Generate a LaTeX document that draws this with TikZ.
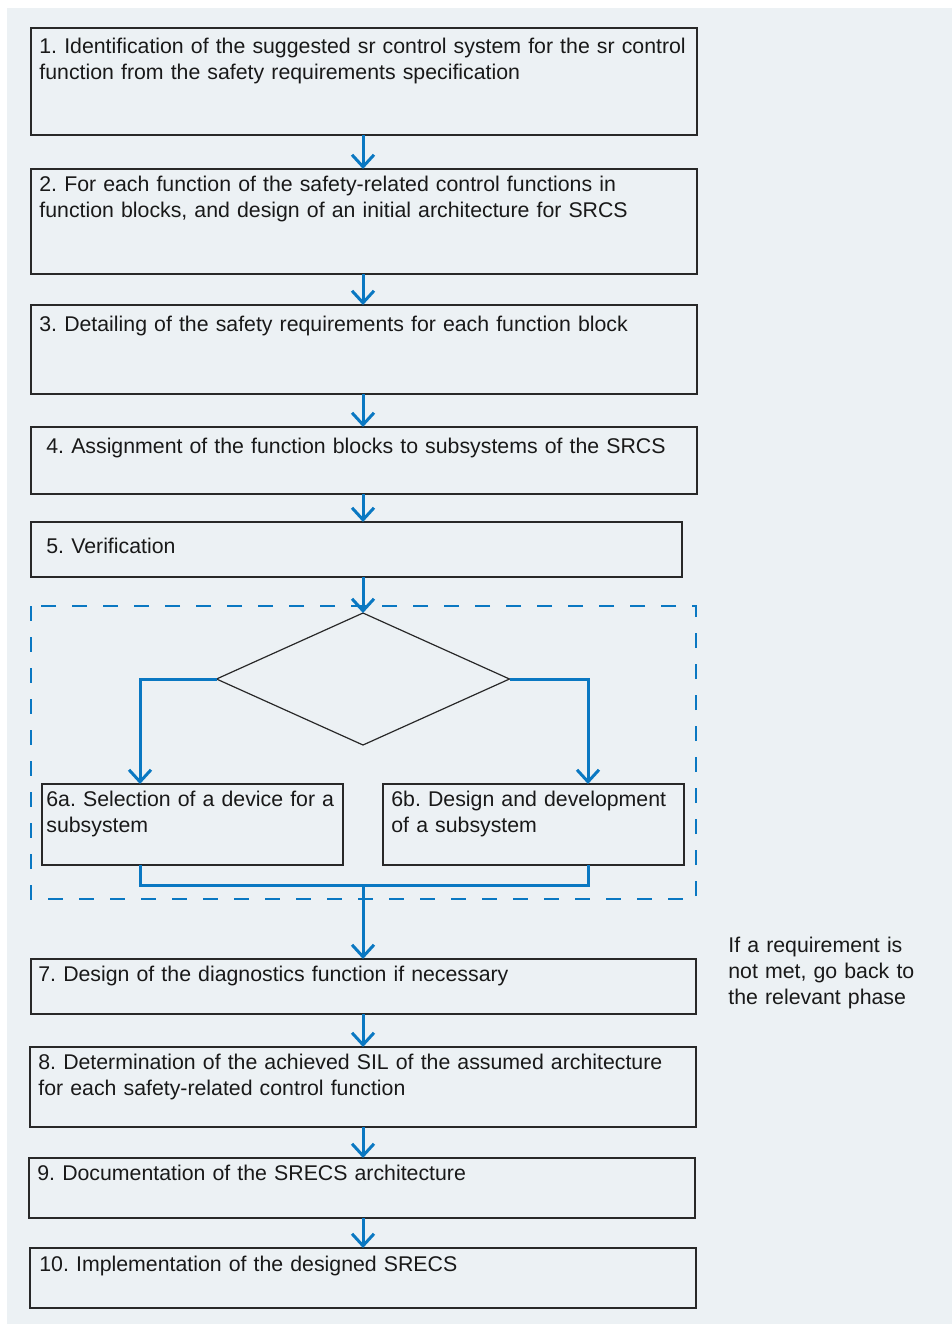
\documentclass[tikz,border=0pt]{standalone}
\usepackage{fontspec}
\setmainfont{Liberation Sans}
\usepackage{xcolor}
\usepackage{tikz}
\usetikzlibrary{arrows.meta,positioning,calc,shapes.geometric}
\definecolor{srblue}{RGB}{10,120,194}
\definecolor{srgray}{RGB}{40,40,40}
\definecolor{srback}{RGB}{236,241,244}
\frenchspacing
\tikzset{
  box/.style={draw=srgray, line width=0.8pt, inner sep=0pt, outer sep=0pt,
    anchor=north west},
  txt/.style={font=\fontsize{10.65}{13}\selectfont, inner sep=0pt, anchor=base west,
    align=left, text width=345pt, text=black!90},
  smalltxt/.style={txt, text width=160pt},
  decision/.style={diamond, draw=srgray, line width=0.6pt, minimum width=146.5pt,
    minimum height=66pt, inner sep=0pt, outer sep=0pt},
  frame/.style={draw=srblue, line width=1pt, dash pattern=on 7.5pt off 8pt},
  link/.style={line width=1.5pt, draw=srblue},
  flow/.style={-{Straight Barb[length=6pt, width=11pt]}, line width=1.5pt, draw=srblue},
}

\begin{document}
\begin{tikzpicture}[x=0.5pt, y=-0.5pt]
  \fill[white] (0,0) rectangle (952,1324);
  \useasboundingbox (0,0) rectangle (952,1324);
  \fill[srback] (7,8) rectangle (952,1324);
  % boxes
  \node[box, minimum width=333pt, minimum height=53.5pt] (b1) at (31,28) {};
  \node[box, minimum width=333pt, minimum height=52.5pt] (b2) at (31,169) {};
  \node[box, minimum width=333pt, minimum height=44.5pt] (b3) at (31,305) {};
  \node[box, minimum width=333pt, minimum height=33.5pt] (b4) at (31,427) {};
  \node[box, minimum width=325.5pt, minimum height=27.5pt] (b5) at (31,522) {};
  \node[box, minimum width=150.5pt, minimum height=40.5pt] (b6a) at (42,784) {};
  \node[box, minimum width=150.5pt, minimum height=40.5pt] (b6b) at (383,784) {};
  \node[box, minimum width=332.5pt, minimum height=27.5pt] (b7) at (31,959) {};
  \node[box, minimum width=333pt, minimum height=40pt] (b8) at (30,1047) {};
  \node[box, minimum width=333pt, minimum height=30pt] (b9) at (29,1158) {};
  \node[box, minimum width=333pt, minimum height=30pt] (b10) at (30,1248) {};
  \node[decision] (dec) at (363,679) {};
  \draw[frame] (31,606) rectangle (696,899);
  % texts
  \node[txt] (t1) at (39,53) {1. Identification of the suggested sr control system for the sr control\\function from the safety requirements specification};
  \node[txt] (t2) at (39,191) {2. For each function of the safety-related control functions in\\function blocks, and design of an initial architecture for SRCS};
  \node[txt] (t3) at (39,331) {3. Detailing of the safety requirements for each function block};
  \node[txt] (t4) at (46,453) {4. Assignment of the function blocks to subsystems of the SRCS};
  \node[txt] (t5) at (46,553) {5. Verification};
  \node[smalltxt] (t6a) at (46,806) {6a. Selection of a device for a\\subsystem};
  \node[smalltxt] (t6b) at (391,806) {6b. Design and development\\of a subsystem};
  \node[txt] (t7) at (38,981) {7. Design of the diagnostics function if necessary};
  \node[txt] (t8) at (38,1069) {8. Determination of the achieved SIL of the assumed architecture\\for each safety-related control function};
  \node[txt] (t9) at (37,1180) {9. Documentation of the SRECS architecture};
  \node[txt] (t10) at (39,1271) {10. Implementation of the designed SRECS};
  \node[smalltxt] (note) at (728,952) {If a requirement is\\not met, go back to\\the relevant phase};
  % connectors
  \coordinate (in6a) at (140,784);
  \coordinate (in6b) at (588,784);
  \coordinate (out6a) at (140,865);
  \coordinate (out6b) at (588,865);
  \coordinate (join) at (363,885);
  \draw[flow] (b1.south -| dec.north) -- (b2.north -| dec.north);
  \draw[flow] (b2.south -| dec.north) -- (b3.north -| dec.north);
  \draw[flow] (b3.south -| dec.north) -- (b4.north -| dec.north);
  \draw[flow] (b4.south -| dec.north) -- (b5.north -| dec.north);
  \draw[flow] (b5.south -| dec.north) -- (dec.north);
  \draw[flow] (dec.west) -| (in6a);
  \draw[flow] (dec.east) -| (in6b);
  \draw[link] (out6a) |- (join) -| (out6b);
  \draw[flow] (join) -- (b7.north -| join);
  \draw[flow] (b7.south -| dec.north) -- (b8.north -| dec.north);
  \draw[flow] (b8.south -| dec.north) -- (b9.north -| dec.north);
  \draw[flow] (b9.south -| dec.north) -- (b10.north -| dec.north);
\end{tikzpicture}
\end{document}
